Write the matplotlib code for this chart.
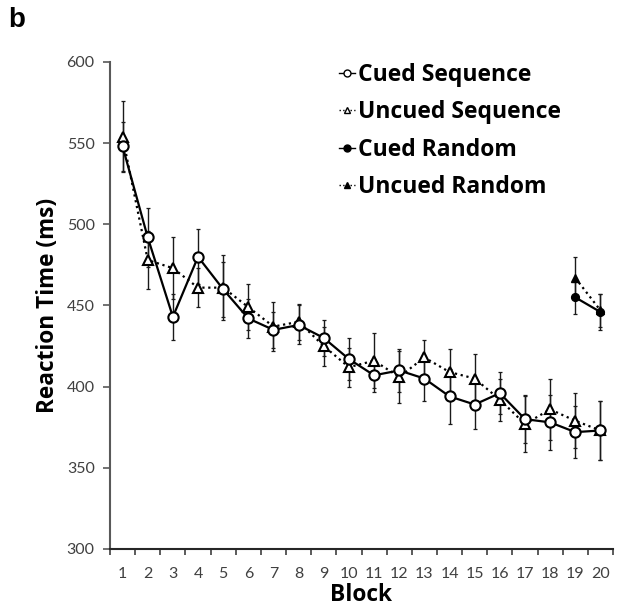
import matplotlib
matplotlib.use("Agg")
import matplotlib.pyplot as plt
from matplotlib.lines import Line2D
from matplotlib.transforms import IdentityTransform
import numpy as np

blocks = list(range(1, 21))
cued_seq = [548, 492, 443, 480, 460, 442, 435, 438, 430, 417, 407, 410, 405, 394, 389, 396, 380, 378, 372, 373]
cued_seq_err = [15, 18, 14, 17, 17, 12, 11, 12, 11, 13, 10, 13, 14, 17, 15, 13, 15, 17, 16, 18]
uncued_seq = [554, 478, 473, 461, 461, 449, 437, 440, 425, 412, 416, 406, 418, 409, 405, 392, 377, 386, 379, 373]
uncued_seq_err = [22, 18, 19, 12, 20, 14, 15, 11, 12, 12, 17, 16, 11, 14, 15, 13, 17, 19, 17, 18]
random_blocks = [19, 20]
cued_rand = [455, 446]
cued_rand_err = [10, 11]
uncued_rand = [467, 447]
uncued_rand_err = [13, 10]
series_labels = ["Cued Sequence", "Uncued Sequence", "Cued Random", "Uncued Random"]

TICKFONT = "Lato"
TITLEFONT = "Open Sans"
plt.rcParams['font.family'] = [TICKFONT, 'DejaVu Sans']

W, H = 624, 607
fig = plt.figure(figsize=(W / 100, H / 100), dpi=100)
ax = fig.add_axes([110 / W, 1 - 549 / H, (613 - 110) / W, (549 - 62) / H])

lw = 1.6
ecol = "#1a1a1a"

def series(x, y, e, marker, ls, fill, ms, mew):
    ax.errorbar(x, y, yerr=e, fmt='none', ecolor=ecol, elinewidth=1.0, capsize=1.6, capthick=0.9, zorder=2)
    ax.plot(x, y, linestyle=ls, color='black', linewidth=lw, marker=marker, markersize=ms,
            markerfacecolor=fill, markeredgecolor='black', markeredgewidth=mew, zorder=3)

series(blocks, uncued_seq, uncued_seq_err, '^', ':', 'white', 7.4, 1.5)
series(blocks, cued_seq, cued_seq_err, 'o', '-', 'white', 7.4, 1.5)
series(random_blocks, uncued_rand, uncued_rand_err, '^', ':', 'black', 5.6, 1.0)
series(random_blocks, cued_rand, cued_rand_err, 'o', '-', 'black', 5.6, 1.0)

ax.set_xlim(0.5, 20.5)
ax.set_ylim(300, 600)
ax.set_yticks(np.arange(300, 601, 50))
ax.set_xticks(np.arange(0.5, 20.6, 1.0))
ax.set_xticklabels([])
ax.set_xticks(blocks, minor=True)
ax.set_xticklabels([str(b) for b in blocks], minor=True)
ax.tick_params(axis='x', which='major', direction='out', length=4, width=1.2, color='#404040')
ax.tick_params(axis='x', which='minor', length=0, pad=13, labelsize=11.5, labelcolor='#404040')
ax.tick_params(axis='y', direction='out', length=5, width=1.2, color='#595959',
               labelsize=11.5, labelcolor='#404040', pad=6)

for s in ['top', 'right']:
    ax.spines[s].set_visible(False)
ax.spines['left'].set_color('#595959')
ax.spines['left'].set_linewidth(1.5)
ax.spines['bottom'].set_color('#262626')
ax.spines['bottom'].set_linewidth(1.5)

xl = ax.set_xlabel("Block", fontsize=17, fontweight='bold', family=TITLEFONT)
yl = ax.set_ylabel("Reaction Time (ms)", fontsize=17, fontweight='bold', family=TITLEFONT)

handles = [
    Line2D([], [], color='black', ls='-', lw=1, marker='o', ms=5, mfc='white', mec='black', mew=1),
    Line2D([], [], color='black', ls=':', lw=1, marker='^', ms=5, mfc='white', mec='black', mew=1),
    Line2D([], [], color='black', ls='-', lw=1, marker='o', ms=5, mfc='black', mec='black', mew=1),
    Line2D([], [], color='black', ls=':', lw=1, marker='^', ms=5, mfc='black', mec='black', mew=1),
]

def make_legend(size, spacing):
    return ax.legend(handles, series_labels, loc='upper left',
                     bbox_to_anchor=(0, 0), frameon=False, handlelength=0.7, handletextpad=0.15,
                     labelspacing=spacing, prop={'family': TITLEFONT, 'weight': 'bold', 'size': size},
                     borderaxespad=0, borderpad=0)

leg_size, leg_sp = 16, 0.7
leg = make_legend(leg_size, leg_sp)

# fit text sizes to the reference measurements (pixels)
fig.canvas.draw()
r = fig.canvas.get_renderer()
for _ in range(3):
    w = leg.get_texts()[1].get_window_extent(r).width
    leg_size *= 203.0 / w
    leg = make_legend(leg_size, leg_sp)
    fig.canvas.draw()
    t = leg.get_texts()
    y0 = t[0].get_window_extent(r)
    y3 = t[3].get_window_extent(r)
    step = ((y0.y0 + y0.y1) / 2 - (y3.y0 + y3.y1) / 2) / 3.0
    leg_sp += (37.3 - step) / (leg_size * 100 / 72)
    leg = make_legend(leg_size, leg_sp)
    fig.canvas.draw()
    ylen = yl.get_window_extent(r).height
    yl.set_fontsize(yl.get_fontsize() * 216.0 / ylen)
    xw = xl.get_window_extent(r).width
    xl.set_fontsize(xl.get_fontsize() * 62.0 / xw)
    fig.canvas.draw()

# place legend: first text starts at x=358, first row centred at y=75 (pixels from top)
t0 = leg.get_texts()[0].get_window_extent(r)
lb = leg.get_window_extent(r)
dx = 358 - t0.x0
dy = (H - 75) - (t0.y0 + t0.y1) / 2
new_x0, new_y1 = lb.x0 + dx, lb.y1 + dy
inv = ax.transAxes.inverted()
ax_pt = inv.transform((new_x0, new_y1))
leg.set_bbox_to_anchor((ax_pt[0], ax_pt[1]), transform=ax.transAxes)

# axis titles positions (display pixels)
ax.yaxis.set_label_coords(48, H - 305, transform=IdentityTransform())
yl.set_va('center')
ax.xaxis.set_label_coords(361, H - 583, transform=IdentityTransform())
xl.set_va('top')

fig.text(8 / W, 1 - 27 / H, "b", fontsize=20, fontweight='bold', family='Liberation Sans')

fig.savefig("out.png", dpi=100)
